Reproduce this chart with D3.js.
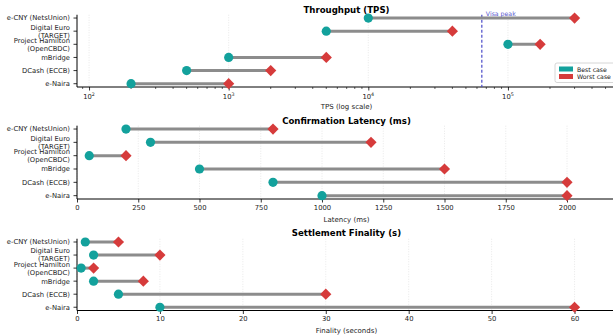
<!DOCTYPE html>
<html><head><meta charset="utf-8">
<script src="https://cdn.jsdelivr.net/npm/d3@7"></script>
<style>
body{margin:0;background:#fff;}
text{font-family:"DejaVu Sans",sans-serif;}
</style></head>
<body><svg id="c" width="613" height="336"></svg>
<script>
const systems = ["e-CNY (NetsUnion)", "Digital Euro (TARGET)", "Project Hamilton (OpenCBDC)", "mBridge", "DCash (ECCB)", "e-Naira"];
const systemLabels = [["e-CNY (NetsUnion)"], ["Digital Euro", "(TARGET)"], ["Project Hamilton", "(OpenCBDC)"], ["mBridge"], ["DCash (ECCB)"], ["e-Naira"]];
const tpsBest = [10000, 5000, 100000, 1000, 500, 200];
const tpsWorst = [300000, 40000, 170000, 5000, 2000, 1000];
const latBest = [200, 300, 50, 500, 800, 1000];
const latWorst = [800, 1200, 200, 1500, 2000, 2000];
const finBest = [1, 2, 0.5, 2, 5, 10];
const finWorst = [5, 10, 2, 8, 30, 60];
const visaPeak = 65000;
const latTicks = [0, 250, 500, 750, 1000, 1250, 1500, 1750, 2000];
const finTicks = [0, 10, 20, 30, 40, 50, 60];
const logTicks = [100, 1000, 10000, 100000];
const titles = ["Throughput (TPS)", "Confirmation Latency (ms)", "Settlement Finality (s)"];
const xLabels = ["TPS (log scale)", "Latency (ms)", "Finality (seconds)"];

const TEAL = "#13a19c", RED = "#d63b3b", LINE = "#8c8c8c";
const svg = d3.select("#c");
const L = 77, R = 616;

const panels = [
  {best: tpsBest, worst: tpsWorst, log: true, dom: [82, 594000], ticks: logTicks, top: 14.75, bottom: 87, title: titles[0], xl: xLabels[0], titleY: 12.5, xlY: 109},
  {best: latBest, worst: latWorst, log: false, dom: [0, 2200], ticks: latTicks, top: 125.7, bottom: 199, title: titles[1], xl: xLabels[1], titleY: 124, xlY: 222},
  {best: finBest, worst: finWorst, log: false, dom: [0, 65], ticks: finTicks, top: 238.75, bottom: 310.5, title: titles[2], xl: xLabels[2], titleY: 235.5, xlY: 333}
];

panels.forEach((p, pi) => {
  const g = svg.append("g");
  const x = (p.log ? d3.scaleLog() : d3.scaleLinear()).domain(p.dom).range([L, R]);
  const y = d3.scaleLinear().domain([-0.25, 5.25]).range([p.bottom, p.top]);
  const yi = i => y(systems.length - 1 - i);

  // grid
  g.selectAll(".grid").data(p.ticks).join("line")
    .attr("x1", d => x(d)).attr("x2", d => x(d))
    .attr("y1", p.top).attr("y2", p.bottom)
    .attr("stroke", "#d8d8d8").attr("stroke-width", 0.6).attr("stroke-dasharray", "1,1.5");

  // x axis
  let ax;
  if (p.log) {
    ax = d3.axisBottom(x).tickValues(logTicks).tickFormat("").tickSize(3.5);
  } else {
    ax = d3.axisBottom(x).tickValues(p.ticks).tickFormat(d => d).tickSize(3.5);
  }
  const axg = g.append("g").attr("transform", `translate(0,${p.bottom})`).call(ax);
  axg.select(".domain").attr("stroke", "#000").attr("stroke-width", 1).attr("d", `M${L},0H${613}`);
  axg.selectAll(".tick line").attr("stroke", "#000").attr("stroke-width", 0.8);
  axg.selectAll(".tick text").attr("font-size", 6.8).attr("fill", "#222").attr("y", 6).attr("dy", "0.71em")
     .attr("font-family", "DejaVu Sans");
  if (p.log) {
    const minors = [];
    for (let e = 1; e <= 5; e++) for (let m = 2; m <= 9; m++) { const v = m * Math.pow(10, e); if (v >= p.dom[0] && v <= p.dom[1]) minors.push(v); }
    g.selectAll(".minor").data(minors).join("line")
      .attr("x1", d => x(d)).attr("x2", d => x(d)).attr("y1", p.bottom).attr("y2", p.bottom + 2)
      .attr("stroke", "#000").attr("stroke-width", 0.6);
    const lt = g.selectAll(".lt").data(logTicks).join("text")
      .attr("x", d => x(d)).attr("y", p.bottom + 12).attr("text-anchor", "middle")
      .attr("font-size", 6.8).attr("fill", "#222");
    lt.append("tspan").text("10");
    lt.append("tspan").attr("dy", -3).attr("font-size", 4.8).text(d => Math.round(Math.log10(d)));
  }

  // y axis
  g.append("line").attr("x1", L).attr("x2", L).attr("y1", p.top).attr("y2", p.bottom)
    .attr("stroke", "#000").attr("stroke-width", 1);
  systemLabels.forEach((lines, i) => {
    const yy = yi(i);
    g.append("line").attr("x1", L - 3.5).attr("x2", L).attr("y1", yy).attr("y2", yy).attr("stroke", "#000").attr("stroke-width", 0.8);
    const t = g.append("text").attr("text-anchor", "end").attr("font-size", 6.8).attr("fill", "#222");
    const n = lines.length;
    lines.forEach((s, k) => {
      t.append("tspan").attr("x", L - 7).attr("y", yy + 2.4 + (k - (n - 1) / 2) * 8).text(s);
    });
  });

  // Visa line
  if (p.log) {
    g.append("line").attr("x1", x(visaPeak)).attr("x2", x(visaPeak)).attr("y1", p.top).attr("y2", p.bottom)
      .attr("stroke", "#4b4bc8").attr("stroke-width", 1.2).attr("stroke-dasharray", "3,2");
  }

  // dumbbells
  g.selectAll(".seg").data(systems).join("line")
    .attr("x1", (d, i) => x(p.best[i])).attr("x2", (d, i) => x(p.worst[i]))
    .attr("y1", (d, i) => yi(i)).attr("y2", (d, i) => yi(i))
    .attr("stroke", LINE).attr("stroke-width", 3);
  g.selectAll(".best").data(systems).join("circle")
    .attr("cx", (d, i) => x(p.best[i])).attr("cy", (d, i) => yi(i)).attr("r", 4.6)
    .attr("fill", TEAL);
  g.selectAll(".worst").data(systems).join("path")
    .attr("d", "M0,-5.6L5.6,0L0,5.6L-5.6,0Z")
    .attr("transform", (d, i) => `translate(${x(p.worst[i])},${yi(i)})`)
    .attr("fill", RED);

  if (p.log) {
    g.append("text").attr("x", x(visaPeak) + 4).attr("y", p.top + 1.5)
      .attr("font-size", 6.2).attr("fill", "#5a5ad0").text("Visa peak");
  }

  // titles
  g.append("text").attr("x", (L + R) / 2).attr("y", p.titleY).attr("text-anchor", "middle")
    .attr("font-size", 8.6).attr("font-weight", "bold").attr("fill", "#000").text(p.title);
  g.append("text").attr("x", (L + R) / 2).attr("y", p.xlY).attr("text-anchor", "middle")
    .attr("font-size", 7).attr("fill", "#222").text(p.xl);

  // legend
  if (p.log) {
    const lg = g.append("g").attr("transform", "translate(555,63)");
    lg.append("rect").attr("width", 64).attr("height", 19.5).attr("rx", 2)
      .attr("fill", "#fff").attr("fill-opacity", 0.85).attr("stroke", "#ccc").attr("stroke-width", 0.8);
    [["Best case", TEAL], ["Worst case", RED]].forEach((e, k) => {
      lg.append("rect").attr("x", 4).attr("y", 3.5 + k * 7.5).attr("width", 14).attr("height", 5).attr("fill", e[1]);
      lg.append("text").attr("x", 22).attr("y", 8.5 + k * 7.5).attr("font-size", 6.2).attr("fill", "#222").text(e[0]);
    });
  }
});
</script></body></html>
